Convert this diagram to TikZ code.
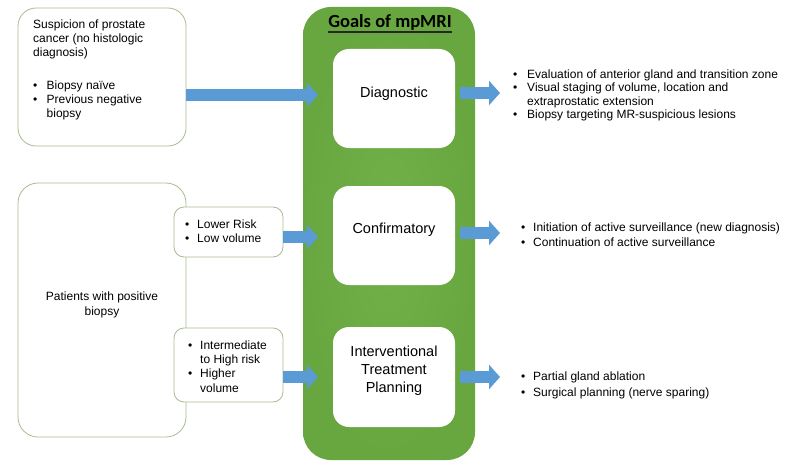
\documentclass[tikz,border=0pt]{standalone}
\usepackage{fontspec}
\setmainfont{Liberation Sans}
\newfontfamily\titlefont{Carlito}
\usetikzlibrary{arrows.meta}
\definecolor{mgreenin}{RGB}{114,176,73}
\definecolor{mgreenout}{RGB}{104,166,64}
\definecolor{mblue}{RGB}{91,155,213}
\definecolor{oliveline}{RGB}{168,188,145}
\newcommand{\bul}[1]{\makebox[#1][l]{•}}
\begin{document}
\begin{tikzpicture}[x=1pt,y=-1pt,
  inbox/.style={draw=oliveline, line width=0.8pt, fill=white, inner sep=0pt},
  wbox/.style={fill=white, rounded corners=16pt, inner sep=0pt, minimum width=122pt, minimum height=99pt},
  small/.style={font=\fontsize{12}{14}\selectfont, align=left, anchor=north west, inner sep=0pt},
  lbl/.style={font=\fontsize{14.5}{18}\selectfont, align=center, inner sep=0pt},
  barrow/.style={draw=mblue, line width=12pt, -{Triangle[length=11pt,width=24pt]}}]
\useasboundingbox (0,0) rectangle (799,468);
% left boxes
\node[inbox, rounded corners=18pt, minimum width=168pt, minimum height=138pt] (s1) at (102,77) {};
\node[inbox, rounded corners=20pt, minimum width=168pt, minimum height=254pt] (s2) at (102,310) {};
\node[inbox, rounded corners=10pt, minimum width=109pt, minimum height=50pt] (low) at (228.5,232) {};
\node[inbox, rounded corners=10pt, minimum width=109pt, minimum height=74pt] (high) at (228.5,365) {};
% green goals box
\shade[inner color=mgreenin, outer color=mgreenout, rounded corners=28pt] (303,7) rectangle (475,460);
\node[inner sep=0pt, minimum width=172pt, minimum height=453pt] (goals) at (389,233.5) {};
\node[font=\titlefont\bfseries\fontsize{18.5}{22}\selectfont, anchor=base, inner sep=0pt] (title) at (390,28) {Goals of mpMRI};
\draw[line width=1.2pt, black!85] ([yshift=-4pt]title.base west) -- ([yshift=-4pt]title.base east);
\node[wbox] (diag) at (394,98.5) {};
\node[wbox] (conf) at (394,235.5) {};
\node[wbox, minimum height=100pt] (intv) at (394,377) {};
\node[lbl] (tdiag) at (diag.center |- 0,94) {Diagnostic};
\node[lbl] (tconf) at (conf.center |- 0,230) {Confirmatory};
\node[lbl] (tintv) at (intv.center |- 0,371) {Interventional\\Treatment\\Planning};
% left texts
\node[small] (t1) at (33,19.2) {Suspicion of prostate\\cancer (no histologic\\diagnosis)\\[19pt]
  \bul{13.5pt}Biopsy naïve\\\bul{13.5pt}Previous negative\\\hspace*{13.5pt}biopsy};
\node[font=\fontsize{12}{15}\selectfont, align=center, inner sep=0pt] (t2) at (102,304.5) {Patients with positive\\biopsy};
\node[small] (tlow) at (185,219.2) {\bul{12pt}Lower Risk\\\bul{12pt}Low volume};
\node[small, font=\fontsize{12}{14.3}\selectfont] (thigh) at (188,340.2) {\bul{12pt}Intermediate\\\hspace*{12pt}to High risk\\\bul{12pt}Higher\\\hspace*{12pt}volume};
% right texts
\node[small, font=\fontsize{12}{13.5}\selectfont] (r1) at (513,69.2) {\bul{14pt}Evaluation of anterior gland and transition zone\\\bul{14pt}Visual staging of volume, location and\\\hspace*{14pt}extraprostatic extension\\\bul{14pt}Biopsy targeting MR-suspicious lesions};
\node[small, font=\fontsize{12}{15}\selectfont] (r2) at (521,222.2) {\bul{12pt}Initiation of active surveillance (new diagnosis)\\\bul{12pt}Continuation of active surveillance};
\node[small, font=\fontsize{12}{16}\selectfont] (r3) at (521,371.2) {\bul{12pt}Partial gland ablation\\\bul{12pt}Surgical planning (nerve sparing)};
% arrows
\coordinate (a1e) at (318,95);
\coordinate (a2e) at (318,237);
\coordinate (a3e) at (318,377);
\coordinate (o1e) at (500,93);
\coordinate (o2e) at (500,233);
\coordinate (o3e) at (500,377);
\draw[barrow] (s1.east |- a1e) -- (a1e);
\draw[barrow] (low.east |- a2e) -- (a2e);
\draw[barrow] (high.east |- a3e) -- (a3e);
\draw[barrow] ([xshift=5pt]diag.east |- o1e) -- (o1e);
\draw[barrow] ([xshift=5pt]conf.east |- o2e) -- (o2e);
\draw[barrow] ([xshift=5pt]intv.east |- o3e) -- (o3e);
\end{tikzpicture}
\end{document}
